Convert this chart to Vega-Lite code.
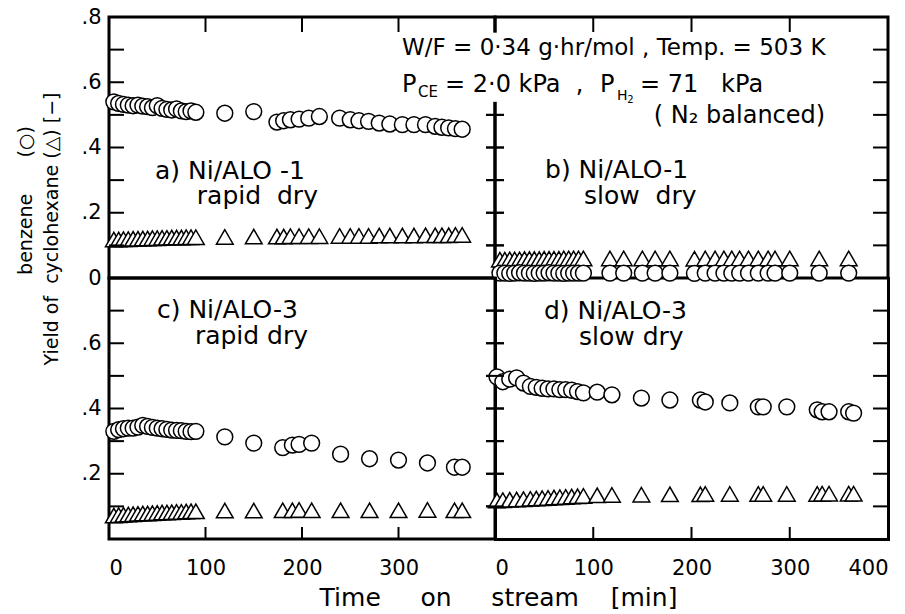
{
  "$schema": "https://vega.github.io/schema/vega-lite/v6.json",
  "background": "white",
  "padding": {"left": 14, "top": 4, "right": 17, "bottom": 5},
  "autosize": {"type": "pad"},
  "bounds": "flush",
  "spacing": 0,
  "columns": 2,
  "config": {
    "font": "DejaVu Sans",
    "view": {"stroke": "black", "strokeWidth": 3, "fill": null},
    "axis": {"grid": false, "domain": false, "ticks": false, "zindex": 1, "labelColor": "black", "labelFont": "DejaVu Sans", "labelFontSize": 21, "titleFont": "DejaVu Sans", "titleColor": "black", "titleFontWeight": "normal", "domainColor": "black", "domainWidth": 3, "domainCap": "square"},
    "tick": {"color": "black", "thickness": 2, "opacity": 1, "bandSize": 15},
    "text": {"font": "DejaVu Sans", "color": "black"}
  },
  "datasets": {
    "yt7": [{"v": 0.1}, {"v": 0.2}, {"v": 0.3}, {"v": 0.4}, {"v": 0.5}, {"v": 0.6}, {"v": 0.7}],
    "yt5": [{"v": 0.1}, {"v": 0.2}, {"v": 0.3}, {"v": 0.4}, {"v": 0.5}],
    "xt3": [{"v": 100}, {"v": 200}, {"v": 300}],
    "xt4": [{"v": 0}, {"v": 100}, {"v": 200}, {"v": 300}],
    "a": [
      {"t": 5, "benzene": 0.540, "cyclohexane": 0.118}, {"t": 10, "benzene": 0.535, "cyclohexane": 0.118}, {"t": 15, "benzene": 0.532, "cyclohexane": 0.119}, {"t": 20, "benzene": 0.530, "cyclohexane": 0.119}, {"t": 25, "benzene": 0.528, "cyclohexane": 0.120}, {"t": 30, "benzene": 0.530, "cyclohexane": 0.120}, {"t": 35, "benzene": 0.527, "cyclohexane": 0.121}, {"t": 40, "benzene": 0.525, "cyclohexane": 0.121}, {"t": 45, "benzene": 0.522, "cyclohexane": 0.122}, {"t": 50, "benzene": 0.528, "cyclohexane": 0.122}, {"t": 55, "benzene": 0.520, "cyclohexane": 0.123}, {"t": 60, "benzene": 0.517, "cyclohexane": 0.123}, {"t": 65, "benzene": 0.515, "cyclohexane": 0.124}, {"t": 70, "benzene": 0.518, "cyclohexane": 0.124}, {"t": 75, "benzene": 0.512, "cyclohexane": 0.124}, {"t": 80, "benzene": 0.510, "cyclohexane": 0.125}, {"t": 85, "benzene": 0.512, "cyclohexane": 0.125}, {"t": 90, "benzene": 0.508, "cyclohexane": 0.125},
      {"t": 120, "benzene": 0.505, "cyclohexane": 0.126}, {"t": 150, "benzene": 0.510, "cyclohexane": 0.127},
      {"t": 174, "benzene": 0.478, "cyclohexane": 0.127}, {"t": 181, "benzene": 0.482, "cyclohexane": 0.127}, {"t": 188, "benzene": 0.485, "cyclohexane": 0.128}, {"t": 197, "benzene": 0.487, "cyclohexane": 0.128}, {"t": 207, "benzene": 0.490, "cyclohexane": 0.128}, {"t": 218, "benzene": 0.495, "cyclohexane": 0.128}, {"t": 239, "benzene": 0.490, "cyclohexane": 0.129}, {"t": 250, "benzene": 0.485, "cyclohexane": 0.129}, {"t": 259, "benzene": 0.482, "cyclohexane": 0.129}, {"t": 269, "benzene": 0.480, "cyclohexane": 0.129}, {"t": 280, "benzene": 0.475, "cyclohexane": 0.130}, {"t": 291, "benzene": 0.472, "cyclohexane": 0.130}, {"t": 304, "benzene": 0.470, "cyclohexane": 0.130}, {"t": 316, "benzene": 0.470, "cyclohexane": 0.130}, {"t": 328, "benzene": 0.470, "cyclohexane": 0.131}, {"t": 338, "benzene": 0.465, "cyclohexane": 0.131}, {"t": 345, "benzene": 0.462, "cyclohexane": 0.131}, {"t": 352, "benzene": 0.460, "cyclohexane": 0.131}, {"t": 359, "benzene": 0.458, "cyclohexane": 0.132}, {"t": 366, "benzene": 0.456, "cyclohexane": 0.132}
    ],
    "b": [
      {"t": 5, "benzene": 0.015, "cyclohexane": 0.056}, {"t": 10, "benzene": 0.015, "cyclohexane": 0.056}, {"t": 15, "benzene": 0.014, "cyclohexane": 0.057}, {"t": 20, "benzene": 0.015, "cyclohexane": 0.057}, {"t": 25, "benzene": 0.016, "cyclohexane": 0.057}, {"t": 30, "benzene": 0.015, "cyclohexane": 0.058}, {"t": 35, "benzene": 0.015, "cyclohexane": 0.058}, {"t": 40, "benzene": 0.014, "cyclohexane": 0.058}, {"t": 45, "benzene": 0.015, "cyclohexane": 0.058}, {"t": 50, "benzene": 0.015, "cyclohexane": 0.059}, {"t": 55, "benzene": 0.016, "cyclohexane": 0.059}, {"t": 60, "benzene": 0.015, "cyclohexane": 0.059}, {"t": 65, "benzene": 0.015, "cyclohexane": 0.059}, {"t": 70, "benzene": 0.014, "cyclohexane": 0.060}, {"t": 75, "benzene": 0.015, "cyclohexane": 0.060}, {"t": 80, "benzene": 0.015, "cyclohexane": 0.060}, {"t": 85, "benzene": 0.015, "cyclohexane": 0.060}, {"t": 90, "benzene": 0.015, "cyclohexane": 0.060},
      {"t": 117, "benzene": 0.015, "cyclohexane": 0.060}, {"t": 131, "benzene": 0.015, "cyclohexane": 0.060}, {"t": 150, "benzene": 0.015, "cyclohexane": 0.060}, {"t": 163, "benzene": 0.015, "cyclohexane": 0.060}, {"t": 178, "benzene": 0.015, "cyclohexane": 0.060},
      {"t": 203, "benzene": 0.014, "cyclohexane": 0.059}, {"t": 214, "benzene": 0.015, "cyclohexane": 0.060}, {"t": 224, "benzene": 0.015, "cyclohexane": 0.060}, {"t": 233, "benzene": 0.015, "cyclohexane": 0.060}, {"t": 241, "benzene": 0.015, "cyclohexane": 0.060}, {"t": 249, "benzene": 0.015, "cyclohexane": 0.060}, {"t": 258, "benzene": 0.015, "cyclohexane": 0.060}, {"t": 268, "benzene": 0.015, "cyclohexane": 0.060}, {"t": 278, "benzene": 0.015, "cyclohexane": 0.060}, {"t": 285, "benzene": 0.015, "cyclohexane": 0.060}, {"t": 300, "benzene": 0.015, "cyclohexane": 0.060}, {"t": 330, "benzene": 0.015, "cyclohexane": 0.060}, {"t": 360, "benzene": 0.015, "cyclohexane": 0.060}
    ],
    "c": [
      {"t": 5, "benzene": 0.330, "cyclohexane": 0.072}, {"t": 10, "benzene": 0.335, "cyclohexane": 0.073}, {"t": 15, "benzene": 0.338, "cyclohexane": 0.074}, {"t": 20, "benzene": 0.340, "cyclohexane": 0.075}, {"t": 25, "benzene": 0.340, "cyclohexane": 0.076}, {"t": 30, "benzene": 0.343, "cyclohexane": 0.077}, {"t": 35, "benzene": 0.348, "cyclohexane": 0.078}, {"t": 40, "benzene": 0.345, "cyclohexane": 0.078}, {"t": 45, "benzene": 0.342, "cyclohexane": 0.079}, {"t": 50, "benzene": 0.340, "cyclohexane": 0.080}, {"t": 55, "benzene": 0.338, "cyclohexane": 0.081}, {"t": 60, "benzene": 0.336, "cyclohexane": 0.081}, {"t": 65, "benzene": 0.334, "cyclohexane": 0.082}, {"t": 70, "benzene": 0.333, "cyclohexane": 0.083}, {"t": 75, "benzene": 0.332, "cyclohexane": 0.083}, {"t": 80, "benzene": 0.330, "cyclohexane": 0.084}, {"t": 85, "benzene": 0.329, "cyclohexane": 0.085}, {"t": 90, "benzene": 0.330, "cyclohexane": 0.085},
      {"t": 120, "benzene": 0.313, "cyclohexane": 0.087}, {"t": 150, "benzene": 0.294, "cyclohexane": 0.087}, {"t": 180, "benzene": 0.280, "cyclohexane": 0.088}, {"t": 190, "benzene": 0.288, "cyclohexane": 0.088}, {"t": 197, "benzene": 0.290, "cyclohexane": 0.089}, {"t": 210, "benzene": 0.294, "cyclohexane": 0.088}, {"t": 240, "benzene": 0.260, "cyclohexane": 0.088}, {"t": 270, "benzene": 0.246, "cyclohexane": 0.088}, {"t": 300, "benzene": 0.242, "cyclohexane": 0.088}, {"t": 330, "benzene": 0.233, "cyclohexane": 0.089}, {"t": 358, "benzene": 0.220, "cyclohexane": 0.088}, {"t": 366, "benzene": 0.220, "cyclohexane": 0.088}
    ],
    "d": [
      {"t": 2, "benzene": 0.497, "cyclohexane": 0.118}, {"t": 8, "benzene": 0.482, "cyclohexane": 0.119}, {"t": 15, "benzene": 0.490, "cyclohexane": 0.120}, {"t": 22, "benzene": 0.494, "cyclohexane": 0.121}, {"t": 29, "benzene": 0.478, "cyclohexane": 0.122}, {"t": 36, "benzene": 0.468, "cyclohexane": 0.123}, {"t": 42, "benzene": 0.465, "cyclohexane": 0.124}, {"t": 48, "benzene": 0.462, "cyclohexane": 0.125}, {"t": 54, "benzene": 0.460, "cyclohexane": 0.126}, {"t": 60, "benzene": 0.460, "cyclohexane": 0.127}, {"t": 66, "benzene": 0.458, "cyclohexane": 0.128}, {"t": 72, "benzene": 0.458, "cyclohexane": 0.129}, {"t": 78, "benzene": 0.456, "cyclohexane": 0.130}, {"t": 84, "benzene": 0.452, "cyclohexane": 0.131}, {"t": 90, "benzene": 0.448, "cyclohexane": 0.132},
      {"t": 104, "benzene": 0.450, "cyclohexane": 0.134}, {"t": 119, "benzene": 0.442, "cyclohexane": 0.135}, {"t": 149, "benzene": 0.432, "cyclohexane": 0.136}, {"t": 178, "benzene": 0.426, "cyclohexane": 0.137}, {"t": 209, "benzene": 0.426, "cyclohexane": 0.137}, {"t": 214, "benzene": 0.420, "cyclohexane": 0.138}, {"t": 239, "benzene": 0.417, "cyclohexane": 0.138}, {"t": 268, "benzene": 0.405, "cyclohexane": 0.138}, {"t": 273, "benzene": 0.405, "cyclohexane": 0.138}, {"t": 297, "benzene": 0.405, "cyclohexane": 0.138}, {"t": 328, "benzene": 0.396, "cyclohexane": 0.138}, {"t": 333, "benzene": 0.390, "cyclohexane": 0.139}, {"t": 340, "benzene": 0.390, "cyclohexane": 0.139}, {"t": 360, "benzene": 0.390, "cyclohexane": 0.139}, {"t": 365, "benzene": 0.386, "cyclohexane": 0.139}
    ]
  },
  "concat": [
    {
      "width": 386, "height": 261,
      "data": {"name": "a"},
      "layer": [
        {"mark": {"type": "point", "shape": "triangle-up", "filled": true, "fill": "white", "stroke": "black", "strokeWidth": 1.5, "size": 280, "opacity": 1},
         "encoding": {
           "x": {"field": "t", "type": "quantitative", "scale": {"domain": [0, 400], "nice": false, "zero": false}, "axis": null},
           "y": {"field": "cyclohexane", "type": "quantitative", "scale": {"domain": [0, 0.8], "nice": false}, "axis": null}
         }},
        {"mark": {"type": "point", "shape": "circle", "filled": true, "fill": "white", "stroke": "black", "strokeWidth": 1.5, "size": 250, "opacity": 1},
         "encoding": {
           "x": {"field": "t", "type": "quantitative", "scale": {"domain": [0, 400], "nice": false, "zero": false}, "axis": null},
           "y": {"field": "benzene", "type": "quantitative", "scale": {"domain": [0, 0.8], "nice": false}, "axis": {"orient": "left", "values": [0, 0.2, 0.4, 0.6, 0.8], "labelPadding": 8,
             "labelExpr": "datum.value < 0.05 ? '0' : replace(format(datum.value, '.1f'), '0.', '.')",
             "title": ["\u200b\u00a0\u00a0\u00a0\u00a0\u00a0\u00a0\u00a0\u00a0\u00a0\u00a0\u00a0\u00a0\u00a0\u00a0\u00a0benzene\u00a0\u00a0\u00a0\u00a0\u00a0\u00a0(○)", "Yield of\u00a0\u00a0cyclohexane\u00a0(△)\u00a0[−]"],
             "titleFontSize": 19, "titleLineHeight": 26, "titleAngle": -90, "titleAlign": "left", "titleBaseline": "bottom", "titleX": -74, "titleY": 348}}
         }},
        {"data": {"name": "yt7"}, "mark": {"type": "tick", "orient": "horizontal", "size": 15, "thickness": 2, "color": "black"},
         "encoding": {"y": {"field": "v", "type": "quantitative", "scale": {"domain": [0, 0.8], "nice": false}, "axis": null}, "x": {"datum": 7.8, "type": "quantitative", "scale": {"domain": [0, 400], "nice": false, "zero": false}, "axis": null}}},
        {"data": {"name": "yt5"}, "mark": {"type": "tick", "orient": "horizontal", "size": 18, "thickness": 2, "color": "black"},
         "encoding": {"y": {"field": "v", "type": "quantitative", "scale": {"domain": [0, 0.8], "nice": false}, "axis": null}, "x": {"datum": 400, "type": "quantitative", "scale": {"domain": [0, 400], "nice": false, "zero": false}, "axis": null}}},
        {"data": {"name": "xt3"}, "mark": {"type": "tick", "orient": "vertical", "size": 15, "thickness": 2, "color": "black"},
         "encoding": {"x": {"field": "v", "type": "quantitative", "scale": {"domain": [0, 400], "nice": false, "zero": false}, "axis": null}, "y": {"datum": 0.777, "type": "quantitative", "scale": {"domain": [0, 0.8], "nice": false}, "axis": null}}},
        {"data": {"values": [{}]}, "mark": {"type": "text", "align": "left", "baseline": "alphabetic", "fontSize": 25},
         "encoding": {"x": {"datum": 47.7, "type": "quantitative", "scale": {"domain": [0, 400], "nice": false, "zero": false}, "axis": null}, "y": {"datum": 0.304, "type": "quantitative", "scale": {"domain": [0, 0.8], "nice": false}, "axis": null}, "text": {"value": "a)\u00a0Ni/ALO\u00a0-1"}}},
        {"data": {"values": [{}]}, "mark": {"type": "text", "align": "left", "baseline": "alphabetic", "fontSize": 25},
         "encoding": {"x": {"datum": 91, "type": "quantitative", "scale": {"domain": [0, 400], "nice": false, "zero": false}, "axis": null}, "y": {"datum": 0.227, "type": "quantitative", "scale": {"domain": [0, 0.8], "nice": false}, "axis": null}, "text": {"value": "rapid\u00a0\u00a0dry"}}}
      ],
      "resolve": {"axis": {"x": "independent", "y": "independent"}}
    },
    {
      "width": 393, "height": 261,
      "data": {"name": "b"},
      "layer": [
        {"mark": {"type": "point", "shape": "triangle-up", "filled": true, "fill": "white", "stroke": "black", "strokeWidth": 1.5, "size": 280, "opacity": 1},
         "encoding": {
           "x": {"field": "t", "type": "quantitative", "scale": {"domain": [0, 400], "nice": false, "zero": false}, "axis": null},
           "y": {"field": "cyclohexane", "type": "quantitative", "scale": {"domain": [0, 0.8], "nice": false}, "axis": null}
         }},
        {"mark": {"type": "point", "shape": "circle", "filled": true, "fill": "white", "stroke": "black", "strokeWidth": 1.5, "size": 250, "opacity": 1},
         "encoding": {
           "x": {"field": "t", "type": "quantitative", "scale": {"domain": [0, 400], "nice": false, "zero": false}, "axis": null},
           "y": {"field": "benzene", "type": "quantitative", "scale": {"domain": [0, 0.8], "nice": false}, "axis": null}
         }},
        {"data": {"values": [{}]}, "mark": {"type": "rule", "stroke": "white", "strokeWidth": 7},
         "encoding": {"x": {"datum": 0, "type": "quantitative", "scale": {"domain": [0, 400], "nice": false, "zero": false}, "axis": null}, "y": {"datum": 0.54, "type": "quantitative", "scale": {"domain": [0, 0.8], "nice": false}, "axis": null}, "y2": {"datum": 0.752}}},
        {"data": {"name": "yt5"}, "mark": {"type": "tick", "orient": "horizontal", "size": 18, "thickness": 2, "color": "black"},
         "encoding": {"y": {"field": "v", "type": "quantitative", "scale": {"domain": [0, 0.8], "nice": false}, "axis": null}, "x": {"datum": 0, "type": "quantitative", "scale": {"domain": [0, 400], "nice": false, "zero": false}, "axis": null}}},
        {"data": {"name": "yt7"}, "mark": {"type": "tick", "orient": "horizontal", "size": 15, "thickness": 2, "color": "black"},
         "encoding": {"y": {"field": "v", "type": "quantitative", "scale": {"domain": [0, 0.8], "nice": false}, "axis": null}, "x": {"datum": 392.4, "type": "quantitative", "scale": {"domain": [0, 400], "nice": false, "zero": false}, "axis": null}}},
        {"data": {"name": "xt4"}, "mark": {"type": "tick", "orient": "vertical", "size": 15, "thickness": 2, "color": "black"},
         "encoding": {"x": {"field": "v", "type": "quantitative", "scale": {"domain": [0, 400], "nice": false, "zero": false}, "axis": null}, "y": {"datum": 0.777, "type": "quantitative", "scale": {"domain": [0, 0.8], "nice": false}, "axis": null}}},
        {"data": {"values": [{}]}, "mark": {"type": "text", "align": "left", "baseline": "alphabetic", "fontSize": 23},
         "encoding": {"x": {"datum": -94.6, "type": "quantitative", "scale": {"domain": [0, 400], "nice": false, "zero": false}, "axis": null}, "y": {"datum": 0.684, "type": "quantitative", "scale": {"domain": [0, 0.8], "nice": false}, "axis": null}, "text": {"value": "W/F = 0·34 g·hr/mol , Temp. = 503 K"}}},
        {"data": {"values": [{}]}, "mark": {"type": "text", "align": "left", "baseline": "alphabetic", "fontSize": 24},
         "encoding": {"x": {"datum": -94.6, "type": "quantitative", "scale": {"domain": [0, 400], "nice": false, "zero": false}, "axis": null}, "y": {"datum": 0.571, "type": "quantitative", "scale": {"domain": [0, 0.8], "nice": false}, "axis": null}, "text": {"value": "P"}}},
        {"data": {"values": [{}]}, "mark": {"type": "text", "align": "left", "baseline": "alphabetic", "fontSize": 15},
         "encoding": {"x": {"datum": -78.3, "type": "quantitative", "scale": {"domain": [0, 400], "nice": false, "zero": false}, "axis": null}, "y": {"datum": 0.555, "type": "quantitative", "scale": {"domain": [0, 0.8], "nice": false}, "axis": null}, "text": {"value": "CE"}}},
        {"data": {"values": [{}]}, "mark": {"type": "text", "align": "left", "baseline": "alphabetic", "fontSize": 24},
         "encoding": {"x": {"datum": -50.9, "type": "quantitative", "scale": {"domain": [0, 400], "nice": false, "zero": false}, "axis": null}, "y": {"datum": 0.571, "type": "quantitative", "scale": {"domain": [0, 0.8], "nice": false}, "axis": null}, "text": {"value": "=\u00a02·0\u00a0kPa\u00a0\u00a0,"}}},
        {"data": {"values": [{}]}, "mark": {"type": "text", "align": "left", "baseline": "alphabetic", "fontSize": 24},
         "encoding": {"x": {"datum": 106.8, "type": "quantitative", "scale": {"domain": [0, 400], "nice": false, "zero": false}, "axis": null}, "y": {"datum": 0.571, "type": "quantitative", "scale": {"domain": [0, 0.8], "nice": false}, "axis": null}, "text": {"value": "P"}}},
        {"data": {"values": [{}]}, "mark": {"type": "text", "align": "left", "baseline": "alphabetic", "fontSize": 14},
         "encoding": {"x": {"datum": 124.1, "type": "quantitative", "scale": {"domain": [0, 400], "nice": false, "zero": false}, "axis": null}, "y": {"datum": 0.546, "type": "quantitative", "scale": {"domain": [0, 0.8], "nice": false}, "axis": null}, "text": {"value": "H"}}},
        {"data": {"values": [{}]}, "mark": {"type": "text", "align": "left", "baseline": "alphabetic", "fontSize": 10},
         "encoding": {"x": {"datum": 134.5, "type": "quantitative", "scale": {"domain": [0, 400], "nice": false, "zero": false}, "axis": null}, "y": {"datum": 0.537, "type": "quantitative", "scale": {"domain": [0, 0.8], "nice": false}, "axis": null}, "text": {"value": "2"}}},
        {"data": {"values": [{}]}, "mark": {"type": "text", "align": "left", "baseline": "alphabetic", "fontSize": 24},
         "encoding": {"x": {"datum": 147.5, "type": "quantitative", "scale": {"domain": [0, 400], "nice": false, "zero": false}, "axis": null}, "y": {"datum": 0.571, "type": "quantitative", "scale": {"domain": [0, 0.8], "nice": false}, "axis": null}, "text": {"value": "=\u00a071\u00a0\u00a0\u00a0kPa"}}},
        {"data": {"values": [{}]}, "mark": {"type": "text", "align": "left", "baseline": "alphabetic", "fontSize": 24},
         "encoding": {"x": {"datum": 161.7, "type": "quantitative", "scale": {"domain": [0, 400], "nice": false, "zero": false}, "axis": null}, "y": {"datum": 0.475, "type": "quantitative", "scale": {"domain": [0, 0.8], "nice": false}, "axis": null}, "text": {"value": "(\u00a0N₂\u00a0balanced)"}}},
        {"data": {"values": [{}]}, "mark": {"type": "text", "align": "left", "baseline": "alphabetic", "fontSize": 25},
         "encoding": {"x": {"datum": 50.9, "type": "quantitative", "scale": {"domain": [0, 400], "nice": false, "zero": false}, "axis": null}, "y": {"datum": 0.307, "type": "quantitative", "scale": {"domain": [0, 0.8], "nice": false}, "axis": null}, "text": {"value": "b)\u00a0Ni/ALO-1"}}},
        {"data": {"values": [{}]}, "mark": {"type": "text", "align": "left", "baseline": "alphabetic", "fontSize": 25},
         "encoding": {"x": {"datum": 90.5, "type": "quantitative", "scale": {"domain": [0, 400], "nice": false, "zero": false}, "axis": null}, "y": {"datum": 0.227, "type": "quantitative", "scale": {"domain": [0, 0.8], "nice": false}, "axis": null}, "text": {"value": "slow\u00a0\u00a0dry"}}}
      ],
      "resolve": {"axis": {"x": "independent", "y": "independent"}}
    },
    {
      "width": 386, "height": 261,
      "data": {"name": "c"},
      "layer": [
        {"mark": {"type": "point", "shape": "triangle-up", "filled": true, "fill": "white", "stroke": "black", "strokeWidth": 1.5, "size": 280, "opacity": 1},
         "encoding": {
           "x": {"field": "t", "type": "quantitative", "scale": {"domain": [0, 400], "nice": false, "zero": false}, "axis": {"orient": "bottom", "values": [0, 100, 200, 300], "labelPadding": 18, "labelFontSize": 21,
             "title": "Time\u00a0\u00a0\u00a0\u00a0\u00a0on\u00a0\u00a0\u00a0\u00a0\u00a0stream\u00a0\u00a0\u00a0\u00a0[min]", "titleFontSize": 25, "titleX": 389, "titleY": 66, "titleAlign": "center", "titleBaseline": "alphabetic"}},
           "y": {"field": "cyclohexane", "type": "quantitative", "scale": {"domain": [0, 0.8], "nice": false}, "axis": null}
         }},
        {"mark": {"type": "point", "shape": "circle", "filled": true, "fill": "white", "stroke": "black", "strokeWidth": 1.5, "size": 250, "opacity": 1},
         "encoding": {
           "x": {"field": "t", "type": "quantitative", "scale": {"domain": [0, 400], "nice": false, "zero": false}, "axis": null},
           "y": {"field": "benzene", "type": "quantitative", "scale": {"domain": [0, 0.8], "nice": false}, "axis": {"orient": "left", "values": [0.2, 0.4, 0.6], "labelPadding": 8,
             "labelExpr": "replace(format(datum.value, '.1f'), '0.', '.')", "title": null}}
         }},
        {"data": {"name": "yt7"}, "mark": {"type": "tick", "orient": "horizontal", "size": 15, "thickness": 2, "color": "black"},
         "encoding": {"y": {"field": "v", "type": "quantitative", "scale": {"domain": [0, 0.8], "nice": false}, "axis": null}, "x": {"datum": 7.8, "type": "quantitative", "scale": {"domain": [0, 400], "nice": false, "zero": false}, "axis": null}}},
        {"data": {"name": "yt7"}, "mark": {"type": "tick", "orient": "horizontal", "size": 18, "thickness": 2, "color": "black"},
         "encoding": {"y": {"field": "v", "type": "quantitative", "scale": {"domain": [0, 0.8], "nice": false}, "axis": null}, "x": {"datum": 400, "type": "quantitative", "scale": {"domain": [0, 400], "nice": false, "zero": false}, "axis": null}}},
        {"data": {"name": "xt3"}, "mark": {"type": "tick", "orient": "vertical", "size": 12, "thickness": 2, "color": "black"},
         "encoding": {"x": {"field": "v", "type": "quantitative", "scale": {"domain": [0, 400], "nice": false, "zero": false}, "axis": null}, "y": {"datum": 0.0184, "type": "quantitative", "scale": {"domain": [0, 0.8], "nice": false}, "axis": null}}},
        {"data": {"values": [{}]}, "mark": {"type": "text", "align": "left", "baseline": "alphabetic", "fontSize": 25},
         "encoding": {"x": {"datum": 49.7, "type": "quantitative", "scale": {"domain": [0, 400], "nice": false, "zero": false}, "axis": null}, "y": {"datum": 0.678, "type": "quantitative", "scale": {"domain": [0, 0.8], "nice": false}, "axis": null}, "text": {"value": "c)\u00a0Ni/ALO-3"}}},
        {"data": {"values": [{}]}, "mark": {"type": "text", "align": "left", "baseline": "alphabetic", "fontSize": 25},
         "encoding": {"x": {"datum": 89, "type": "quantitative", "scale": {"domain": [0, 400], "nice": false, "zero": false}, "axis": null}, "y": {"datum": 0.598, "type": "quantitative", "scale": {"domain": [0, 0.8], "nice": false}, "axis": null}, "text": {"value": "rapid\u00a0dry"}}}
      ],
      "resolve": {"axis": {"x": "independent", "y": "independent"}}
    },
    {
      "width": 393, "height": 261,
      "data": {"name": "d"},
      "view": {"stroke": null},
      "layer": [
        {"mark": {"type": "point", "shape": "triangle-up", "filled": true, "fill": "white", "stroke": "black", "strokeWidth": 1.5, "size": 280, "opacity": 1},
         "encoding": {
           "x": {"field": "t", "type": "quantitative", "scale": {"domain": [0, 400], "nice": false, "zero": false}, "axis": {"orient": "bottom", "values": [0, 100, 200, 300, 400], "labelPadding": 18, "labelFontSize": 21, "domain": true, "title": null}},
           "y": {"field": "cyclohexane", "type": "quantitative", "scale": {"domain": [0, 0.8], "nice": false}, "axis": {"orient": "right", "domain": true, "labels": false, "title": null}}
         }},
        {"mark": {"type": "point", "shape": "circle", "filled": true, "fill": "white", "stroke": "black", "strokeWidth": 1.5, "size": 250, "opacity": 1},
         "encoding": {
           "x": {"field": "t", "type": "quantitative", "scale": {"domain": [0, 400], "nice": false, "zero": false}, "axis": null},
           "y": {"field": "benzene", "type": "quantitative", "scale": {"domain": [0, 0.8], "nice": false}, "axis": {"orient": "left", "domain": true, "labels": false, "title": null}}
         }},
        {"data": {"name": "yt7"}, "mark": {"type": "tick", "orient": "horizontal", "size": 18, "thickness": 2, "color": "black"},
         "encoding": {"y": {"field": "v", "type": "quantitative", "scale": {"domain": [0, 0.8], "nice": false}, "axis": null}, "x": {"datum": 0, "type": "quantitative", "scale": {"domain": [0, 400], "nice": false, "zero": false}, "axis": null}}},
        {"data": {"name": "yt7"}, "mark": {"type": "tick", "orient": "horizontal", "size": 15, "thickness": 2, "color": "black"},
         "encoding": {"y": {"field": "v", "type": "quantitative", "scale": {"domain": [0, 0.8], "nice": false}, "axis": null}, "x": {"datum": 392.4, "type": "quantitative", "scale": {"domain": [0, 400], "nice": false, "zero": false}, "axis": null}}},
        {"data": {"name": "xt3"}, "mark": {"type": "tick", "orient": "vertical", "size": 12, "thickness": 2, "color": "black"},
         "encoding": {"x": {"field": "v", "type": "quantitative", "scale": {"domain": [0, 400], "nice": false, "zero": false}, "axis": null}, "y": {"datum": 0.0184, "type": "quantitative", "scale": {"domain": [0, 0.8], "nice": false}, "axis": null}}},
        {"data": {"values": [{}]}, "mark": {"type": "text", "align": "left", "baseline": "alphabetic", "fontSize": 25},
         "encoding": {"x": {"datum": 49.8, "type": "quantitative", "scale": {"domain": [0, 400], "nice": false, "zero": false}, "axis": null}, "y": {"datum": 0.675, "type": "quantitative", "scale": {"domain": [0, 0.8], "nice": false}, "axis": null}, "text": {"value": "d)\u00a0Ni/ALO-3"}}},
        {"data": {"values": [{}]}, "mark": {"type": "text", "align": "left", "baseline": "alphabetic", "fontSize": 25},
         "encoding": {"x": {"datum": 85.5, "type": "quantitative", "scale": {"domain": [0, 400], "nice": false, "zero": false}, "axis": null}, "y": {"datum": 0.595, "type": "quantitative", "scale": {"domain": [0, 0.8], "nice": false}, "axis": null}, "text": {"value": "slow\u00a0dry"}}}
      ],
      "resolve": {"axis": {"x": "independent", "y": "independent"}}
    }
  ]
}
